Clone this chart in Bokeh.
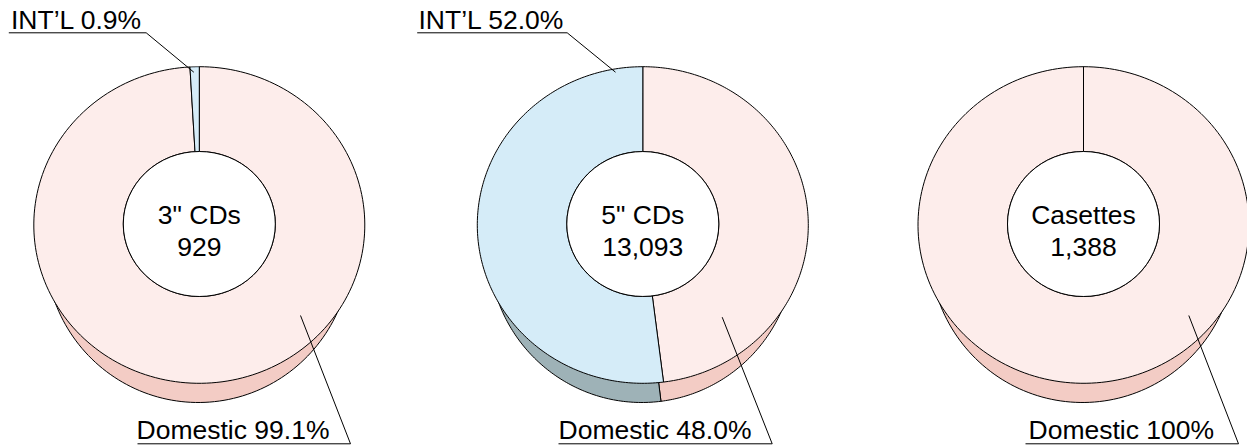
import numpy as np
from bokeh.plotting import figure
from bokeh.models import Range1d, ColumnDataSource
from bokeh.core.properties import value
from bokeh.embed import file_html
from bokeh.resources import INLINE

# ---------------- data ----------------
products = ['3" CDs', '5" CDs', 'Casettes']
totals = ["929", "13,093", "1,388"]
domestic_pct = [99.1, 48.0, 100.0]
intl_pct = [0.9, 52.0, 0.0]
domestic_labels = ["Domestic 99.1%", "Domestic 48.0%", "Domestic 100%"]
intl_labels = ["INT\u2019L 0.9%", "INT\u2019L 52.0%", None]

# ---------------- layout / style ----------------
W, H = 1247, 448
centers_x = [198.8, 642.3, 1083.0]
CY = 224.5
RX, RY = 165.5, 158.3          # top face
HRX, HRY, HCY = 76.0, 72.5, 223.5  # hole
BDX, BCY, BRX, BRY = -1.0, 247.5, 153.0, 154.5  # bottom (side) ellipse

PINK, BLUE = "#FDEDEB", "#D5ECF8"
PINK_SIDE, BLUE_SIDE = "#F3CCC5", "#9EB2B7"
FONT = value("Liberation Sans")
FS = "26.5px"
TXT_DY = -8.5   # bokeh puts the line box bottom (not the baseline) at y

# label layout (pixel positions of underline/leader anchors)
dom_lab = [  # text_x, underline x0, x1, leader end x, leader end y
    (136, 137, 350, 300, 315),
    (558, 558, 771.7, 721.7, 316.7),
    (1028, 1025, 1238, 1188.3, 315),
]
int_lab = [
    (10.5, 8.3, 145.7, 193.3, 71.7),
    (418, 416.7, 566.7, 615, 71.7),
    None,
]
DOM_BASE, DOM_UL = 438.3, 443.3
INT_BASE, INT_UL = 28.3, 32.3

p = figure(width=W, height=H, output_backend="svg", toolbar_location=None,
           x_range=Range1d(0, W), y_range=Range1d(H, 0),
           min_border=0, x_axis_type=None, y_axis_type=None,
           outline_line_color=None)
p.grid.visible = False
p.background_fill_color = "white"
p.border_fill_color = "white"


def arc(cx, cy, rx, ry, t0, t1, n=200):
    t = np.radians(np.linspace(t0, t1, n))
    return cx + rx * np.sin(t), cy - ry * np.cos(t)


bot = dict(xs=[], ys=[], c=[])
top = dict(xs=[], ys=[], c=[])
for i, cx in enumerate(centers_x):
    shares = [(domestic_pct[i], PINK, PINK_SIDE), (intl_pct[i], BLUE, BLUE_SIDE)]
    start = 0.0
    for pct, ctop, cside in shares:
        if pct <= 0:
            continue
        end = start + 360.0 * pct / 100.0
        bx, by = arc(cx + BDX, BCY, BRX, BRY, start, end)
        bot["xs"].append(np.concatenate([[cx + BDX], bx]).tolist())
        bot["ys"].append(np.concatenate([[BCY], by]).tolist())
        bot["c"].append(cside)
        ox, oy = arc(cx, CY, RX, RY, start, end)
        ix, iy = arc(cx, HCY, HRX, HRY, end, start)
        top["xs"].append(np.concatenate([ox, ix]).tolist())
        top["ys"].append(np.concatenate([oy, iy]).tolist())
        top["c"].append(ctop)
        start = end

p.patches("xs", "ys", source=ColumnDataSource(bot), fill_color="c",
          line_color="black", line_width=1)
p.patches("xs", "ys", source=ColumnDataSource(top), fill_color="c",
          line_color="black", line_width=1)
p.ellipse(x=centers_x, y=[HCY] * 3, width=2 * HRX, height=2 * HRY,
          fill_color="white", line_color="black", line_width=1)

txt = dict(text_font=FONT, text_font_size=FS, text_baseline="alphabetic",
           text_color="black")

# centre texts
p.text(x=centers_x, y=[CY - 1.2 + TXT_DY] * 3, text=products,
       text_align="center", **txt)
p.text(x=centers_x, y=[CY + 30.5 + TXT_DY] * 3, text=totals,
       text_align="center", **txt)

# domestic labels
p.text(x=[d[0] for d in dom_lab], y=[DOM_BASE + TXT_DY] * 3, text=domestic_labels,
       text_align="left", **txt)
p.segment(x0=[d[1] for d in dom_lab], y0=[DOM_UL] * 3,
          x1=[d[2] for d in dom_lab], y1=[DOM_UL] * 3, line_color="black", line_width=1)
p.segment(x0=[d[2] for d in dom_lab], y0=[DOM_UL] * 3,
          x1=[d[3] for d in dom_lab], y1=[d[4] for d in dom_lab], line_color="black", line_width=1)

# international labels
ii = [k for k in range(3) if int_lab[k] is not None]
p.text(x=[int_lab[k][0] for k in ii], y=[INT_BASE + TXT_DY] * len(ii),
       text=[intl_labels[k] for k in ii], text_align="left", **txt)
p.segment(x0=[int_lab[k][1] for k in ii], y0=[INT_UL] * len(ii),
          x1=[int_lab[k][2] for k in ii], y1=[INT_UL] * len(ii), line_color="black", line_width=1)
p.segment(x0=[int_lab[k][2] for k in ii], y0=[INT_UL] * len(ii),
          x1=[int_lab[k][3] for k in ii], y1=[int_lab[k][4] for k in ii], line_color="black", line_width=1)

open("out.html", "w").write(file_html(p, INLINE))
